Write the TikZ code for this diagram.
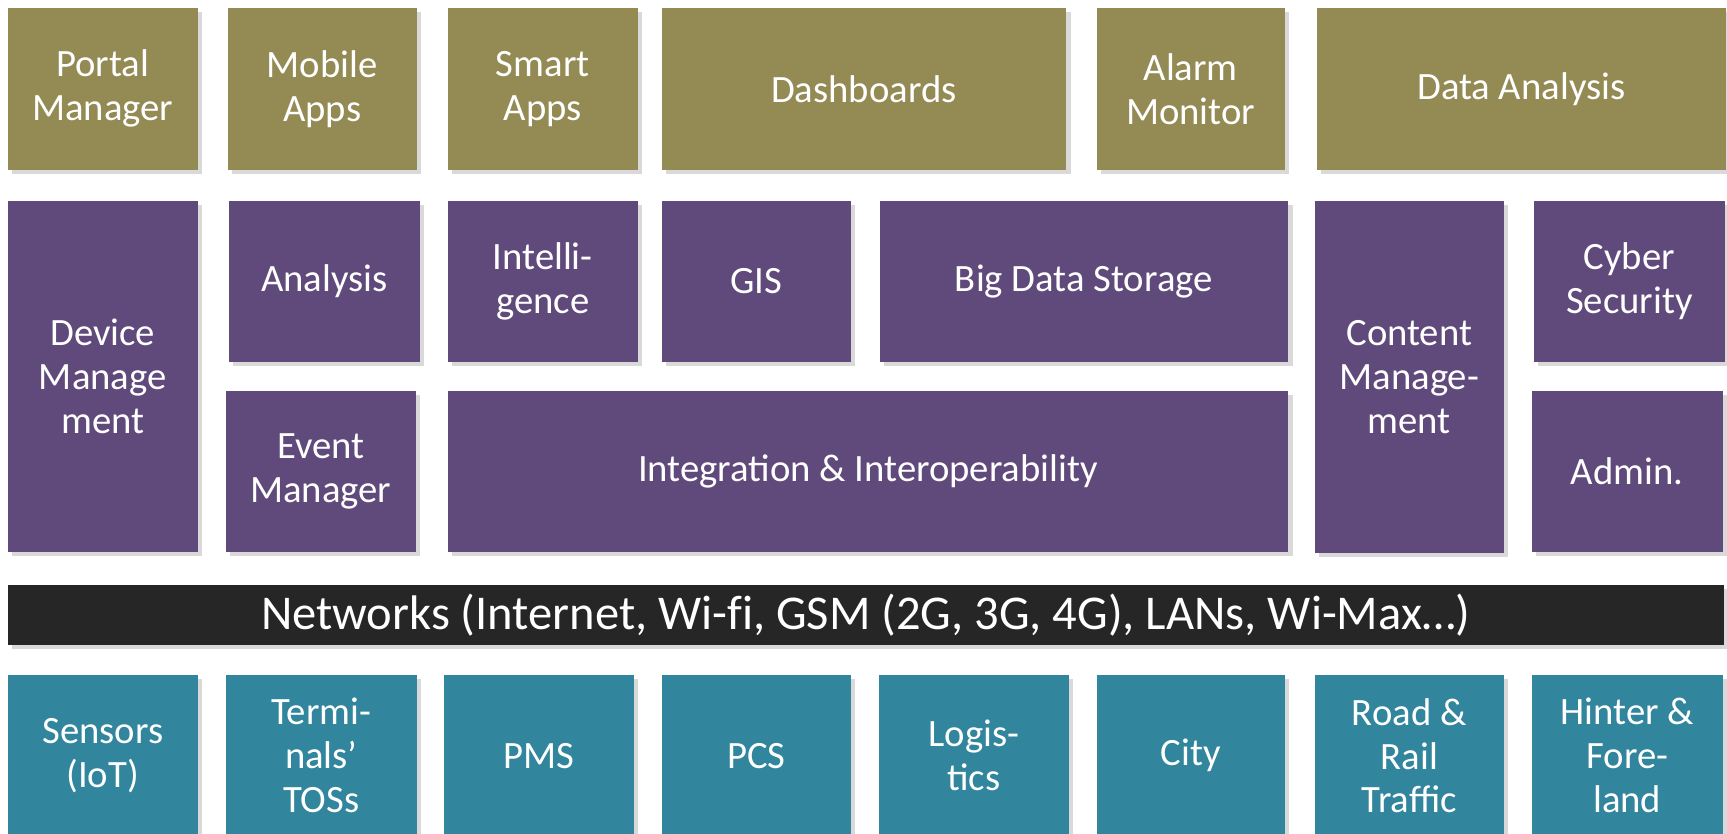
\documentclass[tikz,border=0pt]{standalone}
\usepackage{fontspec}
\setmainfont{Carlito}
\usetikzlibrary{positioning}
\usetikzlibrary{shadows}
\definecolor{appolive}{HTML}{948A54}
\definecolor{svcpurple}{HTML}{604A7B}
\definecolor{srcteal}{HTML}{31859C}
\definecolor{netblack}{HTML}{262626}
\tikzset{
    blk/.style = {rectangle, anchor=north west, inner sep=0pt, align=center, text=white,
                  font=\fontsize{11pt}{12.5pt}\selectfont,
                  drop shadow={shadow xshift=1.3pt, shadow yshift=-1.3pt, opacity=0.3}},
    blko/.style = {blk, fill=appolive},   % applications
    blkp/.style = {blk, fill=svcpurple},  % platform services
    blkt/.style = {blk, fill=srcteal},    % data sources
    blkn/.style = {blk, fill=netblack, font=\fontsize{13.8pt}{16pt}\selectfont},
    sz/.style 2 args = {minimum width=#1cm, minimum height=#2cm}
}

\begin{document}
\begin{tikzpicture}[x=0.01cm, y=-0.01cm]
  \path[use as bounding box, clip] (0,0) rectangle (1727,834);

  % applications
  \node[blko, sz={1.90}{1.62}] (portal) at (7,7)    {Portal\\Manager};
  \node[blko, sz={1.89}{1.62}] (mobile) at (227,7)  {Mobile\\Apps};
  \node[blko, sz={1.90}{1.62}] (smart)  at (447,7)  {Smart\\Apps};
  \node[blko, sz={4.04}{1.62}] (dash)   at (661,7)  {Dashboards};
  \node[blko, sz={1.88}{1.62}] (alarm)  at (1096,7) {Alarm\\Monitor};
  \node[blko, sz={4.09}{1.62}] (dataan) at (1316,7) {Data Analysis};

  % platform
  \node[blkp, sz={1.90}{3.51}] (device)   at (7,200)    {Device\\Manage\\ment};
  \node[blkp, sz={1.91}{1.61}] (analysis) at (228,200)  {Analysis};
  \node[blkp, sz={1.90}{1.61}] (intel)    at (447,200)  {Intelli-\\gence};
  \node[blkp, sz={1.89}{1.61}] (gis)      at (661,200)  {GIS};
  \node[blkp, sz={4.08}{1.61}] (bigdata)  at (879,200)  {Big Data Storage};
  \node[blkp, sz={1.89}{3.52}] (content)  at (1314,200) {Content\\Manage-\\ment};
  \node[blkp, sz={1.91}{1.61}] (cyber)    at (1533,200) {Cyber\\Security};
  \node[blkp, sz={1.90}{1.61}] (event)    at (225,390)  {Event\\Manager};
  \node[blkp, sz={8.40}{1.61}] (integ)    at (447,390)  {Integration \& Interoperability};
  \node[blkp, sz={1.91}{1.61}] (admin)    at (1531,390) {Admin.};

  % networks
  \node[blkn, sz={17.15}{0.60}] (net) at (7,584) {Networks (Internet, Wi-f\kern0pt i, GSM (2G, 3G, 4G), LANs, Wi-Max…)};

  % sources
  \node[blkt, sz={1.90}{1.62}] (sensors) at (7,674)    {Sensors\\(IoT)};
  \node[blkt, sz={1.91}{1.62}] (tos)     at (225,674)  {Termi-\\nals’\\TOSs};
  \node[blkt, sz={1.90}{1.62}] (pms)     at (443,674)  {PMS};
  \node[blkt, sz={1.89}{1.62}] (pcs)     at (661,674)  {PCS};
  \node[blkt, sz={1.90}{1.62}] (logis)   at (878,674)  {Logis-\\tics};
  \node[blkt, sz={1.88}{1.62}] (city)    at (1096,674) {City};
  \node[blkt, sz={1.89}{1.62}] (road)    at (1314,674) {Road \&\\Rail\\Traffic};
  \node[blkt, sz={1.91}{1.62}] (hinter)  at (1531,674) {Hinter \&\\Fore-\\land};

\end{tikzpicture}
\end{document}
